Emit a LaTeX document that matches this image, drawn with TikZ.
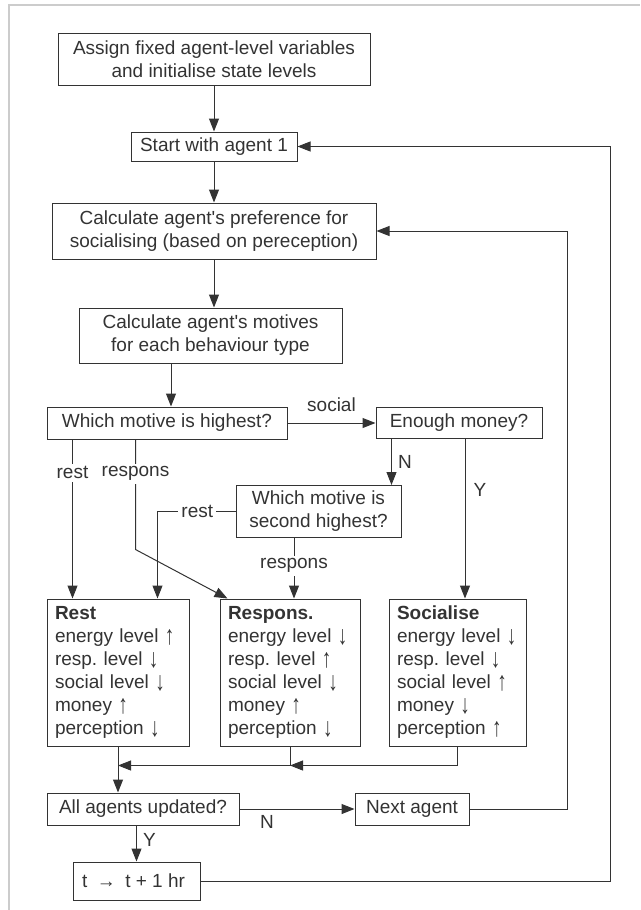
\documentclass[tikz,border=0pt]{standalone}
\usepackage{fontspec}
\setmainfont{Liberation Sans}
\usetikzlibrary{positioning, arrows.meta}
\frenchspacing
\newcommand{\uparr}{\raisebox{-1.5pt}{\scalebox{1}[1.4]{↑}}}
\newcommand{\dnarr}{\raisebox{-1.5pt}{\scalebox{1}[1.4]{↓}}}

\begin{document}
\begin{tikzpicture}[boxnode/.style={draw=black!80, text=black!80, line width=1pt, align=center, inner sep=0pt, font=\fontsize{19}{23}\selectfont},
                    listnode/.style={boxnode, align=left, inner xsep=8pt, minimum height=147pt},
                    edgelabel/.style={fill=white, text=black!80, inner sep=3pt, font=\fontsize{19}{23}\selectfont},
                    plainlabel/.style={text=black!80, inner sep=0pt, font=\fontsize{19}{23}\selectfont},
                    arr/.style={-{Triangle[length=13pt,width=10pt]}, line width=1pt, draw=black!80}]
    \useasboundingbox (0,0) rectangle (640pt,-910pt);
    \draw[black!20, line width=1.5pt] (9pt,-910pt) -- (9pt,-5pt) -- (640pt,-5pt);
    % nodes
    \node[boxnode, minimum width=312pt, minimum height=52pt] (assign) at (214pt,-59pt) {Assign fixed agent-level variables\\and initialise state levels};
    \node[boxnode, minimum width=166pt, minimum height=29pt] (start)    [below=46pt of assign.south]    {Start with agent 1};
    \node[boxnode, minimum width=324pt, minimum height=56pt] (pref)     [below=41pt of start.south]     {Calculate agent\textquotesingle s preference for\\socialising (based on pereception)};
    \node[boxnode, minimum width=263pt, minimum height=55pt] (motives)  [below=48pt of pref.south, xshift=-3.5pt] {Calculate agent\textquotesingle s motives\\for each behaviour type};
    \node[boxnode, minimum width=240pt, minimum height=32pt] (highest)  [below=43pt of motives.south, xshift=-43.5pt] {Which motive is highest?};
    \node[boxnode, minimum width=166pt, minimum height=31pt] (money)    [right=88pt of highest]         {Enough money?};
    \node[boxnode, minimum width=165pt, minimum height=52pt] (second)   [below=46pt of money.south, xshift=-140.5pt] {Which motive is\\second highest?};
    \node[listnode, text width=126pt] (rest)      [below=159pt of highest.south west, anchor=north west] {\textbf{Rest}\\energy level \uparr\\resp. level \dnarr\\social level \dnarr\\money \uparr\\perception \dnarr};
    \node[listnode, text width=124pt] (respons)   [right=30pt of rest]    {\textbf{Respons.}\\energy level \dnarr\\resp. level \uparr\\social level \dnarr\\money \uparr\\perception \dnarr};
    \node[listnode, text width=121pt] (socialise) [right=28pt of respons] {\textbf{Socialise}\\energy level \dnarr\\resp. level \dnarr\\social level \uparr\\money \dnarr\\perception \uparr};
    \node[boxnode, minimum width=192pt, minimum height=32pt] (updated)  [below=46pt of rest.south west, anchor=north west] {All agents updated?};
    \node[boxnode, minimum width=114pt, minimum height=32pt] (next)     [right=115pt of updated]        {Next agent};
    \node[boxnode, minimum width=127pt, minimum height=38pt] (time)     [below=36pt of updated.south west, anchor=north west, xshift=26pt] {t\enspace→\enspace t + 1 hr\hspace{6pt}};
    \coordinate (merge) at ([yshift=-19pt]rest.south);
    % lines
    \draw[arr] (assign.south) -- (assign.south |- start.north);
    \draw[arr] (start.south) -- (start.south |- pref.north);
    \draw[arr] (pref.south) -- (pref.south |- motives.north);
    \draw[arr] ([xshift=4pt]highest.north |- motives.south) -- ([xshift=4pt]highest.north);
    \draw[arr] (highest) -- node[plainlabel, above=11pt]{social} (money);
    \draw[arr] ([xshift=16pt]money.south west) -- node[plainlabel, right=6pt]{N} ([xshift=16pt]money.south west |- second.north);
    \draw[arr] ([xshift=7.5pt]socialise.north |- money.south) -- node[plainlabel, right=8pt, pos=0.32]{Y} ([xshift=7.5pt]socialise.north);
    \draw[arr] ([xshift=26pt]rest.north west |- highest.south) -- node[edgelabel, pos=0.21]{rest} ([xshift=26pt]rest.north west);
    \draw[arr] ([xshift=89pt]highest.south west) -- node[edgelabel, pos=0.31]{respons} ++(0,-110pt) -- ([xshift=8pt]respons.north west);
    \draw[arr] (second.west) -- node[edgelabel, pos=0.49]{rest} ([xshift=111pt]rest.north west |- second.west) -- ([xshift=111pt]rest.north west);
    \draw[arr] ([xshift=4pt]respons.north |- second.south) -- node[edgelabel, pos=0.46]{respons} ([xshift=4pt]respons.north);
    \draw[arr] (socialise.south) |- (respons.south |- merge);
    \draw[arr] (respons.south) |- (merge);
    \draw[arr] (rest.south) -- (rest.south |- updated.north);
    \draw[arr] (updated) -- node[plainlabel, below=6pt, pos=0.24]{N} (next);
    \draw[arr] ([xshift=90pt]updated.south west) -- node[plainlabel, right=6pt, pos=0.4]{Y} ([xshift=90pt]updated.south west |- time.north);
    \draw[arr] (next.east) -- ++(98pt,0) |- (pref.east);
    \draw[arr] (time.east) -- ++(410pt,0) |- (start.east);
\end{tikzpicture}
\end{document}
